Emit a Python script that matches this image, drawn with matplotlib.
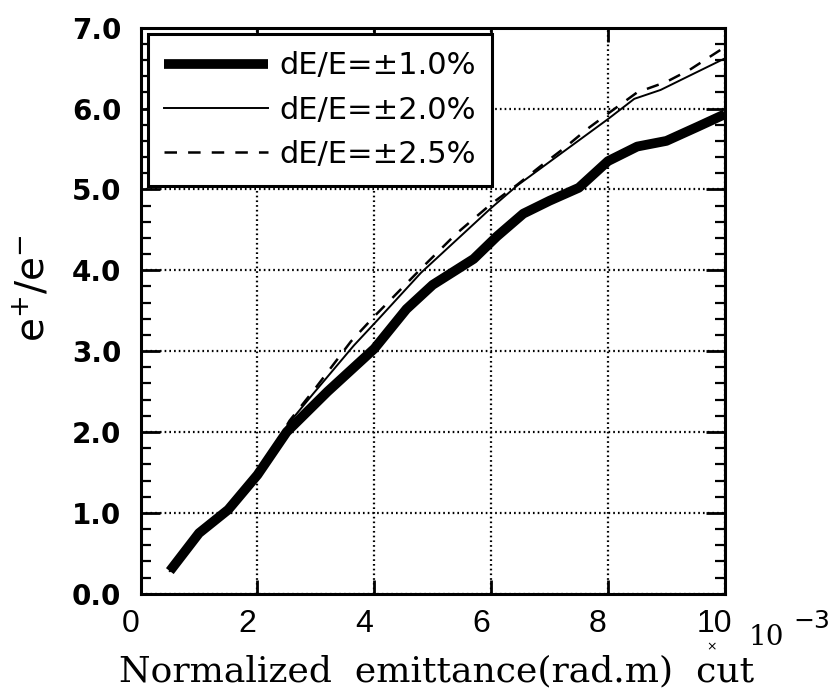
import matplotlib
matplotlib.use('Agg')
import matplotlib.pyplot as plt
import matplotlib.ticker as ticker
import matplotlib.transforms as mtransforms

plt.rcParams['lines.scale_dashes'] = False

# e+/e- yield vs normalized emittance cut (x 10^-3 rad.m)
x_10 = [0.5, 1.0, 1.5, 2.0, 2.5, 3.2, 4.0, 4.55, 5.0, 5.7, 6.1, 6.55, 7.0, 7.5, 8.0, 8.5, 9.0, 9.55, 10.0]
y_10 = [0.28, 0.75, 1.04, 1.47, 2.0, 2.5, 3.03, 3.52, 3.82, 4.14, 4.42, 4.70, 4.86, 5.02, 5.35, 5.53, 5.60, 5.78, 5.93]

x_20 = [0.5, 1.0, 1.5, 2.0, 2.55, 2.95, 3.65, 4.05, 4.8, 5.4, 6.0, 6.45, 8.0, 8.45, 8.9, 9.35, 10.0]
y_20 = [0.28, 0.75, 1.04, 1.47, 2.12, 2.47, 3.07, 3.38, 3.97, 4.37, 4.77, 5.05, 5.87, 6.12, 6.23, 6.39, 6.62]

x_25 = [0.5, 1.0, 1.5, 2.0, 2.55, 3.0, 3.6, 4.0, 4.8, 5.4, 6.0, 6.45, 6.85, 7.25, 7.65, 8.1, 8.5, 9.0, 9.4, 10.0]
y_25 = [0.28, 0.75, 1.04, 1.47, 2.14, 2.55, 3.12, 3.43, 4.02, 4.45, 4.82, 5.06, 5.29, 5.51, 5.75, 5.99, 6.20, 6.33, 6.48, 6.76]

labels = ['dE/E=±1.0%', 'dE/E=±2.0%', 'dE/E=±2.5%']
xticks = [0, 2, 4, 6, 8, 10]
yticks = [0, 1, 2, 3, 4, 5, 6, 7]

fig = plt.figure(figsize=(8.37, 6.92), dpi=100)
ax = fig.add_axes([0.168, 0.142, 0.698, 0.818])

ax.plot(x_10, y_10, color='black', lw=7, solid_capstyle='butt',
        solid_joinstyle='round', label=labels[0], zorder=3)
ax.plot(x_20, y_20, color='black', lw=1.4, solid_joinstyle='round',
        label=labels[1], zorder=4)
ax.plot(x_25, y_25, color='black', lw=1.8, dashes=(9, 8), label=labels[2], zorder=4)

ax.set_xlim(0, 10)
ax.set_ylim(0, 7)
ax.set_xticks(xticks)
ax.set_xticklabels([str(v) for v in xticks])
ax.set_yticks(yticks)
ax.set_yticklabels(['%.1f' % v for v in yticks])
ax.yaxis.set_minor_locator(ticker.MultipleLocator(0.2))

ax.grid(True, which='major', color='black', linestyle=(0, (1.2, 2.2)), lw=1.6)
for s in ax.spines.values():
    s.set_linewidth(2.2)

ax.tick_params(axis='y', which='major', direction='in', length=14, width=2,
               left=True, right=True, pad=14)
ax.tick_params(axis='y', which='minor', direction='in', length=7, width=1.6,
               left=True, right=True)
ax.tick_params(axis='x', which='major', direction='in', length=10, width=2,
               top=True, pad=11)

for lab in ax.get_yticklabels():
    lab.set_fontfamily('DejaVu Sans')
    lab.set_fontweight('bold')
    lab.set_fontsize(20)

shift = mtransforms.ScaledTranslation(-10 / 100, 0, fig.dpi_scale_trans)
for lab in ax.get_xticklabels():
    lab.set_fontfamily(['Liberation Sans Narrow', 'Liberation Sans'])
    lab.set_fontsize(23)
    lab.set_transform(lab.get_transform() + shift)

leg = ax.legend(loc='upper left', bbox_to_anchor=(0.012, 0.988), borderaxespad=0,
                prop={'family': 'DejaVu Sans', 'size': 22}, frameon=True,
                fancybox=False, handlelength=3.4, handletextpad=0.35,
                labelspacing=0.5, borderpad=0.55)
leg.get_frame().set_edgecolor('black')
leg.get_frame().set_linewidth(2.2)
leg.get_frame().set_alpha(1)
leg.set_zorder(10)

# axis titles
fig.text(33 / 837, 1 - 288 / 692, r'$\mathregular{e^{+}/e^{-}}$', rotation=90,
         ha='center', va='center', fontsize=28, family='DejaVu Sans')
fig.text(437 / 837, 1 - 681 / 692, 'Normalized  emittance(rad.m)  cut',
         ha='center', va='baseline', fontsize=26, family='DejaVu Serif')

# x 10^-3 multiplier
fig.text(712 / 837, 1 - 650 / 692, '×', ha='center', va='baseline', fontsize=9,
         family='DejaVu Sans')
fig.text(749 / 837, 1 - 645 / 692, '10', ha='left', va='baseline', fontsize=20,
         family='DejaVu Serif')
fig.text(793 / 837, 1 - 628 / 692, '−3', ha='left', va='baseline', fontsize=18,
         family='DejaVu Sans')

fig.savefig('out.png', dpi=100)
